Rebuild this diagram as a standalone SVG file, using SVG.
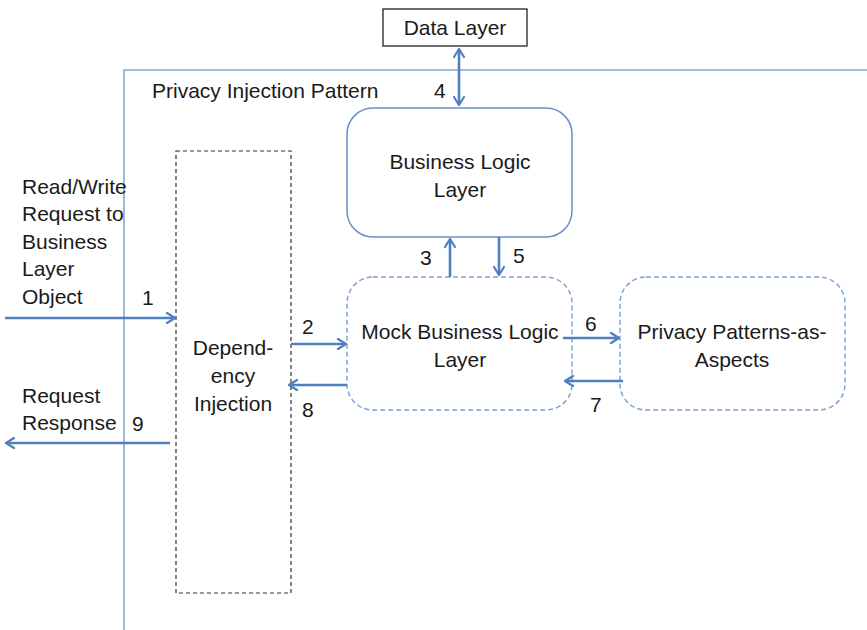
<svg xmlns="http://www.w3.org/2000/svg" width="867" height="630" viewBox="0 0 867 630">
<defs>
<marker id="ah" viewBox="0 0 12 12" refX="10" refY="6" markerWidth="12" markerHeight="12" markerUnits="userSpaceOnUse" orient="auto-start-reverse">
<path d="M2,1 L10,6 L2,11" fill="none" stroke="#4f7fbf" stroke-width="2.2" stroke-linecap="round" stroke-linejoin="round"/>
</marker>
</defs>
<style>
text{font-family:"Liberation Sans",Arial,sans-serif;font-size:21px;fill:#1a1a1a}
.c{text-anchor:middle}
.conn{stroke:#4f7fbf;stroke-width:2.6;fill:none}
.frame{fill:none;stroke:#86a6d8;stroke-width:1.6}
.solidbox{fill:#fff;stroke:#6a90c8;stroke-width:1.5}
.dashbox{fill:#fff;stroke:#7a9ed2;stroke-width:1.4;stroke-dasharray:5 3}
</style>
<rect width="867" height="630" fill="#fff"/>
<g id="frame">
<path class="frame" d="M124,630 L124,70 L867,70"/>
<text x="152" y="98">Privacy Injection Pattern</text>
</g>
<g id="data-layer">
<rect x="383" y="9" width="144" height="37" fill="#fff" stroke="#222" stroke-width="1.3"/>
<text class="c" x="455" y="35">Data Layer</text>
</g>
<g id="business-logic">
<rect class="solidbox" x="347" y="108" width="225" height="129" rx="26"/>
<text class="c" x="460" y="169">Business Logic</text>
<text class="c" x="460" y="197">Layer</text>
</g>
<g id="dependency-injection">
<rect x="176" y="151" width="115" height="442" fill="#fff" stroke="#333" stroke-width="1.2" stroke-dasharray="4 3"/>
<text class="c" x="233" y="355">Depend-</text>
<text class="c" x="233" y="383">ency</text>
<text class="c" x="233" y="411">Injection</text>
</g>
<g id="mock-business-logic">
<rect class="dashbox" x="347" y="277" width="225" height="133" rx="26"/>
<text class="c" x="460" y="339">Mock Business Logic</text>
<text class="c" x="460" y="367">Layer</text>
</g>
<g id="privacy-patterns">
<rect class="dashbox" x="620" y="277" width="225" height="133" rx="26"/>
<text class="c" x="732" y="339">Privacy Patterns-as-</text>
<text class="c" x="732" y="367">Aspects</text>
</g>
<g id="left-labels">
<text x="22" y="194">Read/Write</text>
<text x="22" y="221">Request to</text>
<text x="22" y="249">Business</text>
<text x="22" y="276">Layer</text>
<text x="22" y="304">Object</text>
<text x="22" y="403">Request</text>
<text x="22" y="430">Response</text>
</g>
<g id="connectors">
<line class="conn" x1="459" y1="49" x2="459" y2="105" marker-start="url(#ah)" marker-end="url(#ah)"/>
<line class="conn" x1="5" y1="318" x2="175" y2="318" marker-end="url(#ah)"/>
<line class="conn" x1="170" y1="443" x2="6" y2="443" marker-end="url(#ah)"/>
<line class="conn" x1="291" y1="344" x2="346" y2="344" marker-end="url(#ah)"/>
<line class="conn" x1="347" y1="385" x2="289" y2="385" marker-end="url(#ah)"/>
<line class="conn" x1="450" y1="277" x2="450" y2="239" marker-end="url(#ah)"/>
<line class="conn" x1="499" y1="237" x2="499" y2="275" marker-end="url(#ah)"/>
<line class="conn" x1="563" y1="338" x2="619" y2="338" marker-end="url(#ah)"/>
<line class="conn" x1="623" y1="381" x2="565" y2="381" marker-end="url(#ah)"/>
<text x="434" y="98">4</text>
<text x="142" y="305">1</text>
<text x="132" y="431">9</text>
<text x="302" y="334">2</text>
<text x="302" y="417">8</text>
<text x="420" y="265">3</text>
<text x="513" y="263">5</text>
<text x="585" y="331">6</text>
<text x="590" y="412">7</text>
</g>
</svg>
